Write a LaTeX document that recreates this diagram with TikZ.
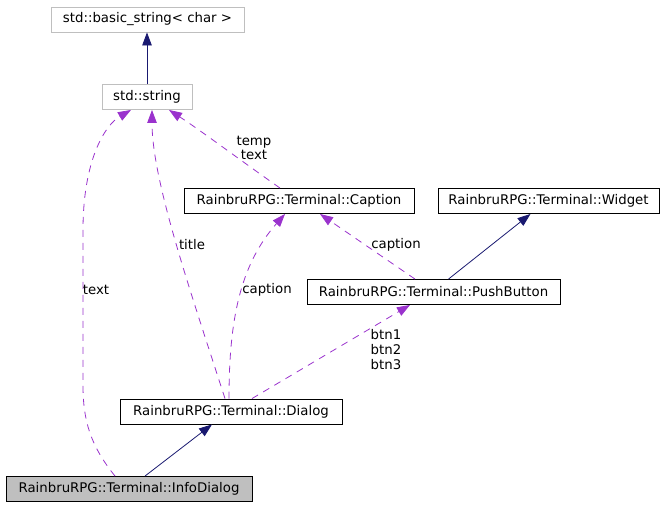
\documentclass[tikz,border=0pt]{standalone}
\usepackage{fontspec}
\setmainfont{DejaVu Sans}
\usetikzlibrary{arrows.meta}
\definecolor{edgepurple}{HTML}{9A32CD}
\definecolor{edgenavy}{HTML}{191970}
\definecolor{boxgray}{HTML}{BFBFBF}

\begin{document}
\begin{tikzpicture}[x=1pt,y=-1pt,
  every node/.style={font=\fontsize{13.3}{15}\selectfont},
  cls/.style={draw=black,line width=0.9pt,minimum height=25pt,inner sep=0pt},
  stdbox/.style={cls,draw=boxgray},
  inherit/.style={-{Triangle[length=13pt,width=9.5pt]},color=edgenavy,line width=0.8pt},
  uses/.style={-{Triangle[length=13pt,width=9.5pt]},color=edgepurple,line width=0.8pt,dash pattern=on 7pt off 6pt},
  lbl/.style={align=center,inner sep=0pt}]
\useasboundingbox (0,0) rectangle (667,507);

\node[stdbox,minimum width=193pt] (bstr) at (147.5,19.5) {std::basic\_string< char >};
\node[stdbox,minimum width=90pt] (str) at (147,97) {std::string};
\node[cls,minimum width=230pt] (cap) at (299,201) {RainbruRPG::Terminal::Caption};
\node[cls,minimum width=221pt] (wid) at (548.5,201) {RainbruRPG::Terminal::Widget};
\node[cls,minimum width=253pt] (pb) at (433.5,292) {RainbruRPG::Terminal::PushButton};
\node[cls,minimum width=222pt] (dlg) at (231,411.5) {RainbruRPG::Terminal::Dialog};
\node[cls,fill=boxgray,minimum width=246pt] (info) at (129,489) {RainbruRPG::Terminal::InfoDialog};

% inheritance
\draw[inherit] (str.north) -- ([xshift=-0.5pt]bstr.south);
\draw[inherit] ([xshift=15pt]pb.north) -- ([xshift=-18pt]wid.south);
\draw[inherit] ([xshift=16pt]info.north) -- ([xshift=-19pt]dlg.south);

% members
\draw[uses] ([xshift=-19pt]cap.north) .. controls (240,160) and (200,130) .. ([xshift=22pt]str.south);
\draw[uses] ([xshift=-6pt]dlg.north) .. controls (190,290) and (152,180) .. ([xshift=5pt]str.south);
\draw[uses] ([xshift=-2pt]dlg.north) .. controls (229,320) and (240,265) .. ([xshift=-14pt]cap.south);
\draw[uses] ([xshift=-18.5pt]pb.north) -- ([xshift=21pt]cap.south);
\draw[uses] ([xshift=21pt]dlg.north) -- ([xshift=-23.5pt]pb.south);
\draw[uses] ([xshift=-14pt]info.north) .. controls (90,445) and (83,420) .. (83,385) -- (83,230) .. controls (83,160) and (105,125) .. ([xshift=-16pt]str.south);

\node[lbl,font=\fontsize{13.3}{14}\selectfont] (ltemp) at (254,148) {temp\\text};
\node[lbl] (ltitle) at (192,245) {title};
\node[lbl] (lcapdlg) at (267,290) {caption};
\node[lbl] (lcappb) at (396,245) {caption};
\node[lbl] (ltext) at (96,290) {text};
\node[lbl,align=left] (lbtn) at (386,350) {btn1\\btn2\\btn3};
\end{tikzpicture}
\end{document}
